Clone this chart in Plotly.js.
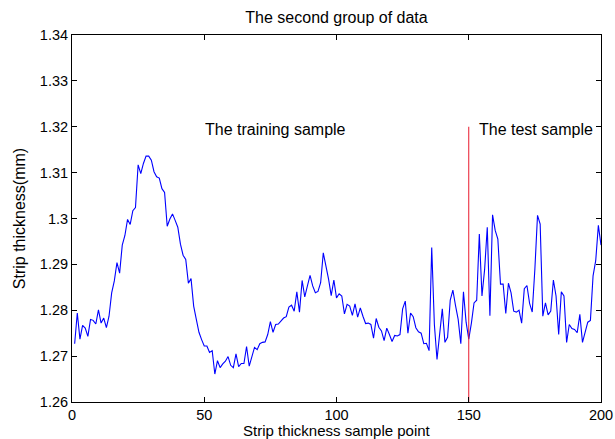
<!DOCTYPE html>
<html>
<head>
<meta charset="utf-8">
<script src="https://cdn.plot.ly/plotly-3.0.1.min.js"></script>
<style>html,body{margin:0;padding:0;background:#fff;}#chart{width:615px;height:439px;}</style>
</head>
<body>
<div id="chart"></div>
<script>
const thickness = [
1.2727,1.2794,1.2737,1.2767,1.2761,1.2743,1.2780,1.2778,1.2770,1.2801,
1.2772,1.2783,1.2762,1.2787,1.2838,1.2864,1.2904,1.2881,1.2942,1.2963,
1.2998,1.2987,1.3017,1.3024,1.3117,1.3098,1.3120,1.3136,1.3136,1.3127,
1.3102,1.3091,1.3088,1.3065,1.3057,1.2983,1.2999,1.3010,1.2996,1.2981,
1.2944,1.2920,1.2911,1.2859,1.2869,1.2809,1.2780,1.2752,1.2736,1.2722,
1.2722,1.2708,1.2712,1.2661,1.2690,1.2675,1.2683,1.2689,1.2699,1.2680,
1.2675,1.2705,1.2677,1.2684,1.2684,1.2721,1.2678,1.2699,1.2719,1.2714,
1.2727,1.2730,1.2731,1.2747,1.2775,1.2752,1.2769,1.2770,1.2776,1.2783,
1.2786,1.2807,1.2811,1.2798,1.2840,1.2796,1.2865,1.2829,1.2853,1.2876,
1.2853,1.2838,1.2841,1.2860,1.2925,1.2897,1.2868,1.2832,1.2866,1.2827,
1.2836,1.2831,1.2792,1.2813,1.2809,1.2789,1.2814,1.2785,1.2805,1.2787,
1.2771,1.2772,1.2769,1.2739,1.2782,1.2763,1.2755,1.2734,1.2761,1.2747,
1.2732,1.2745,1.2744,1.2747,1.2803,1.2820,1.2750,1.2794,1.2786,1.2762,
1.2753,1.2750,1.2727,1.2728,1.2712,1.2937,1.2769,1.2693,1.2750,1.2803,
1.2730,1.2741,1.2822,1.2844,1.2810,1.2780,1.2727,1.2840,1.2774,1.2737,
1.2772,1.2816,1.2822,1.2966,1.2831,1.2889,1.2981,1.2788,1.3008,1.2974,
1.2955,1.2857,1.2857,1.2793,1.2859,1.2838,1.2798,1.2796,1.2800,1.2772,
1.2847,1.2854,1.2815,1.2796,1.2890,1.3007,1.2988,1.2787,1.2816,1.2790,
1.2798,1.2866,1.2831,1.2747,1.2840,1.2831,1.2730,1.2769,1.2760,1.2758,
1.2751,1.2791,1.2730,1.2754,1.2774,1.2778,1.2875,1.2908,1.2985,1.2942
];
const samplePoints = thickness.map((_, i) => i + 1);
const splitX = [150, 150];
const splitY = [1.26, 1.32];
const xTicks = [0, 50, 100, 150, 200];
const yTicks = [1.26, 1.27, 1.28, 1.29, 1.30, 1.31, 1.32, 1.33, 1.34];
const yTickText = ['1.26','1.27','1.28','1.29','1.3','1.31','1.32','1.33','1.34'];
const labels = [
  {text: 'The training sample', x: 77, y: 1.3195},
  {text: 'The test sample', x: 175.5, y: 1.3195}
];
const xTitle = 'Strip thickness sample point';

const font = {family: 'Liberation Sans, Arial, sans-serif', size: 16, color: '#000'};
const tickFont = {family: 'Liberation Sans, Arial, sans-serif', size: 14.5, color: '#000'};
const xTitleFont = {family: 'Liberation Sans, Arial, sans-serif', size: 15, color: '#000'};

const traces = [
  {x: samplePoints, y: thickness, mode: 'lines', type: 'scatter',
   line: {color: '#0000ff', width: 1.1}, hoverinfo: 'skip'},
  {x: splitX, y: splitY, mode: 'lines', type: 'scatter',
   line: {color: '#e8192c', width: 1}, hoverinfo: 'skip'}
];

const axisCommon = {
  showgrid: false, zeroline: false, showline: true, linecolor: '#000', linewidth: 1,
  mirror: 'ticks', ticks: 'inside', ticklen: 5, tickcolor: '#000', tickwidth: 1,
  tickfont: tickFont
};

const annots = labels.map(l => ({text: l.text, x: l.x, y: l.y, xref: 'x', yref: 'y',
    showarrow: false, font: font, xanchor: 'center', yanchor: 'middle'}));
annots.push({text: xTitle, x: 0.5, y: 0, xref: 'paper', yref: 'paper', yshift: -28,
    showarrow: false, font: xTitleFont, xanchor: 'center', yanchor: 'middle'});

const layout = {
  width: 615, height: 439,
  margin: {l: 72, r: 14, t: 35, b: 37},
  paper_bgcolor: '#fff', plot_bgcolor: '#fff',
  showlegend: false,
  font: font,
  title: {text: 'The second group of data', font: font, x: 0.5, xref: 'paper',
          y: 1 - 17/439, yref: 'container', yanchor: 'middle'},
  xaxis: Object.assign({}, axisCommon, {
    range: [0, 200], tickvals: xTicks, ticktext: xTicks.map(String)
  }),
  yaxis: Object.assign({}, axisCommon, {
    range: [1.26, 1.34], tickvals: yTicks, ticktext: yTickText,
    title: {text: 'Strip thickness(mm)', font: font, standoff: 10}
  }),
  annotations: annots
};

Plotly.newPlot('chart', traces, layout, {displayModeBar: false, staticPlot: true});
</script>
</body>
</html>
